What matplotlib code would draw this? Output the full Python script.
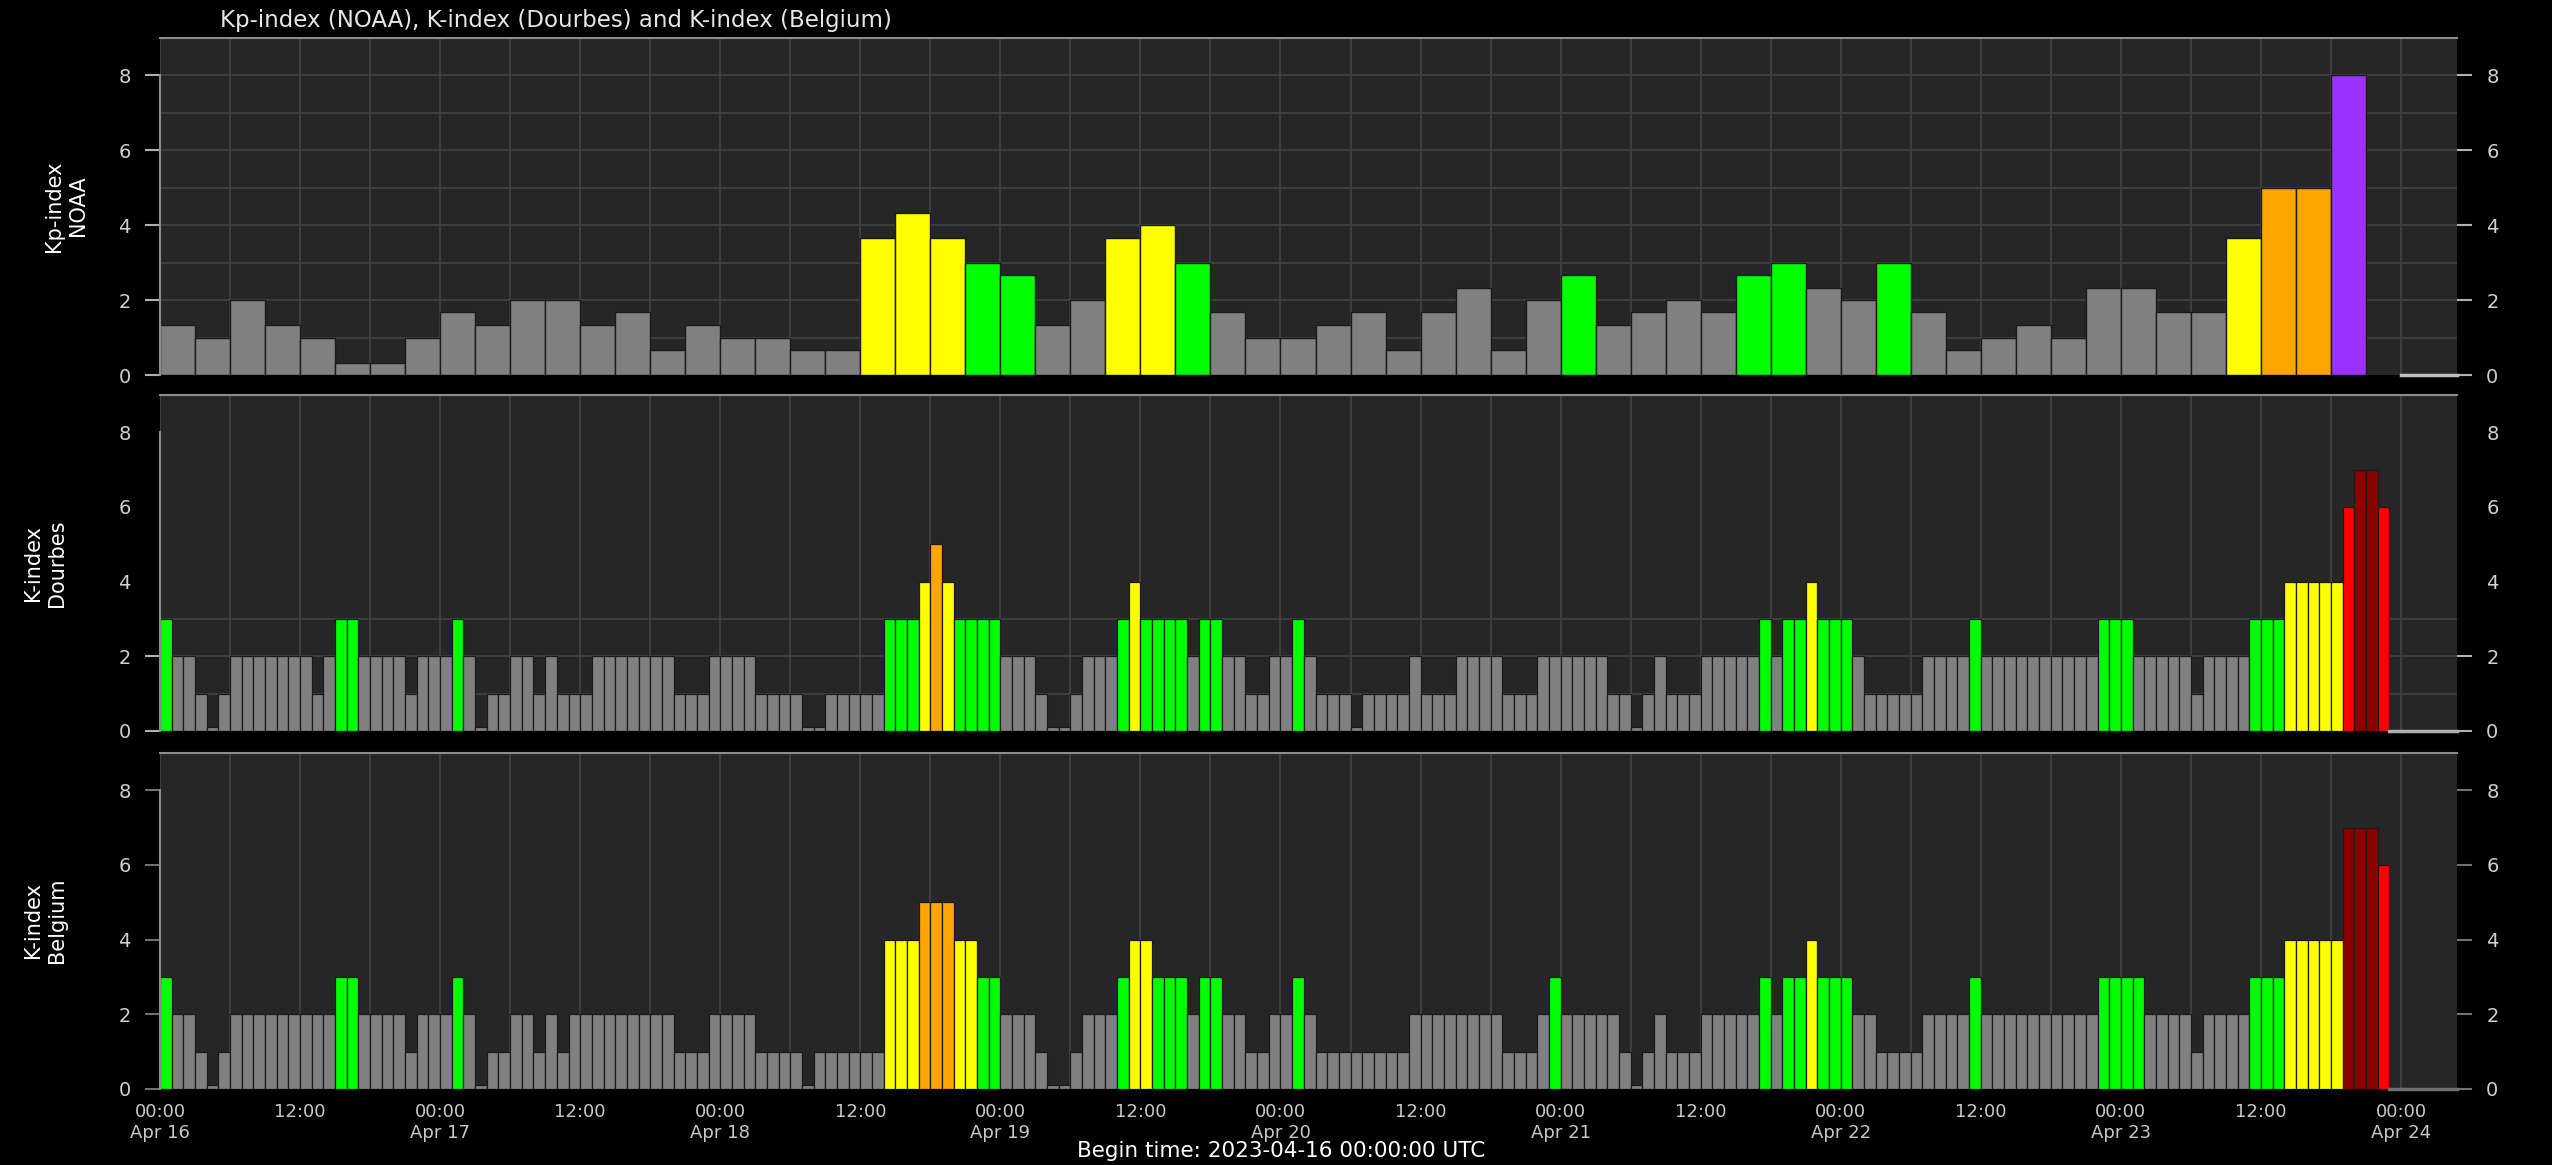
import datetime as dt
import matplotlib
matplotlib.use("Agg")
import matplotlib.pyplot as plt
import matplotlib.dates as mdates

START = dt.datetime(2023, 4, 16)
END = START + dt.timedelta(days=8.2)

# Kp-index (NOAA), 3-hourly, from 2023-04-16 00:00
kp_noaa = [
    1.33, 1, 2, 1.33, 1, 0.33, 0.33, 1,
    1.67, 1.33, 2, 2, 1.33, 1.67, 0.67, 1.33,
    1, 1, 0.67, 0.67, 3.67, 4.33, 3.67, 3,
    2.67, 1.33, 2, 3.67, 4, 3, 1.67, 1,
    1, 1.33, 1.67, 0.67, 1.67, 2.33, 0.67, 2,
    2.67, 1.33, 1.67, 2, 1.67, 2.67, 3, 2.33,
    2, 3, 1.67, 0.67, 1, 1.33, 1, 2.33,
    2.33, 1.67, 1.67, 3.67, 5, 5, 8,
]

# K-index Dourbes, hourly
k_dourbes = [
    3, 2, 2, 1, 0, 1, 2, 2, 2, 2, 2, 2, 2, 1, 2, 3, 3, 2, 2, 2, 2, 1, 2, 2,
    2, 3, 2, 0, 1, 1, 2, 2, 1, 2, 1, 1, 1, 2, 2, 2, 2, 2, 2, 2, 1, 1, 1, 2,
    2, 2, 2, 1, 1, 1, 1, 0, 0, 1, 1, 1, 1, 1, 3, 3, 3, 4, 5, 4, 3, 3, 3, 3,
    2, 2, 2, 1, 0, 0, 1, 2, 2, 2, 3, 4, 3, 3, 3, 3, 2, 3, 3, 2, 2, 1, 1, 2,
    2, 3, 2, 1, 1, 1, 0, 1, 1, 1, 1, 2, 1, 1, 1, 2, 2, 2, 2, 1, 1, 1, 2, 2,
    2, 2, 2, 2, 1, 1, 0, 1, 2, 1, 1, 1, 2, 2, 2, 2, 2, 3, 2, 3, 3, 4, 3, 3,
    3, 2, 1, 1, 1, 1, 1, 2, 2, 2, 2, 3, 2, 2, 2, 2, 2, 2, 2, 2, 2, 2, 3, 3,
    3, 2, 2, 2, 2, 2, 1, 2, 2, 2, 2, 3, 3, 3, 4, 4, 4, 4, 4, 6, 7, 7, 6,
]

# K-index Belgium, hourly
k_belgium = [
    3, 2, 2, 1, 0, 1, 2, 2, 2, 2, 2, 2, 2, 2, 2, 3, 3, 2, 2, 2, 2, 1, 2, 2,
    2, 3, 2, 0, 1, 1, 2, 2, 1, 2, 1, 2, 2, 2, 2, 2, 2, 2, 2, 2, 1, 1, 1, 2,
    2, 2, 2, 1, 1, 1, 1, 0, 1, 1, 1, 1, 1, 1, 4, 4, 4, 5, 5, 5, 4, 4, 3, 3,
    2, 2, 2, 1, 0, 0, 1, 2, 2, 2, 3, 4, 4, 3, 3, 3, 2, 3, 3, 2, 2, 1, 1, 2,
    2, 3, 2, 1, 1, 1, 1, 1, 1, 1, 1, 2, 2, 2, 2, 2, 2, 2, 2, 1, 1, 1, 2, 3,
    2, 2, 2, 2, 2, 1, 0, 1, 2, 1, 1, 1, 2, 2, 2, 2, 2, 3, 2, 3, 3, 4, 3, 3,
    3, 2, 2, 1, 1, 1, 1, 2, 2, 2, 2, 3, 2, 2, 2, 2, 2, 2, 2, 2, 2, 2, 3, 3,
    3, 3, 2, 2, 2, 2, 1, 2, 2, 2, 2, 3, 3, 3, 4, 4, 4, 4, 4, 7, 7, 7, 6,
]

BG = "#262626"
GRID = "#444444"


def k_color(k):
    k = int(round(k))
    if k <= 2:
        return "#808080"
    return {3: "#00ff00", 4: "#ffff00", 5: "#ffa500",
            6: "#ff0000", 7: "#8b0000"}.get(k, "#9b30ff")


def fmt_time(x, pos):
    d = mdates.num2date(x)
    if d.hour == 0:
        return d.strftime("%H:%M\n%b %d")
    return d.strftime("%H:%M")


def setup(ax, hlines, tick_color, hide_ticks=()):
    ax.set_facecolor(BG)
    ax.set_xlim(START, END)
    ax.set_ylim(0, 9)
    ax.xaxis.set_major_locator(mdates.HourLocator(byhour=[0, 12]))
    ax.xaxis.set_minor_locator(mdates.HourLocator(byhour=[6, 18]))
    ax.xaxis.set_major_formatter(plt.FuncFormatter(fmt_time))
    ax.set_axisbelow(True)
    ax.grid(True, which="both", axis="x", color=GRID, lw=1.2)
    for y in hlines:
        ax.axhline(y, color=GRID, lw=1.2, zorder=0.6)
    ax.set_yticks([0, 2, 4, 6, 8])
    ax.tick_params(axis="y", left=True, right=True, labelleft=True, labelright=True,
                   length=11, width=1.5, color=tick_color, labelcolor="#d0d0d0",
                   labelsize=14, pad=10)
    ax.tick_params(axis="x", which="both", length=0, labelbottom=False,
                   labelcolor="#c8c8c8", labelsize=13, pad=10)
    for i in hide_ticks:
        t = ax.yaxis.get_major_ticks()[i]
        t.tick1line.set_visible(False)
        t.tick2line.set_visible(False)
    for s in ("right", "bottom"):
        ax.spines[s].set_visible(False)
    ax.spines["top"].set_color("#8c8c8c")
    ax.spines["top"].set_linewidth(1.5)
    ax.spines["left"].set_color("#8c8c8c")
    ax.spines["left"].set_linewidth(1.5)
    ax.spines["left"].set_bounds(0, 8)


def draw_k(ax, values, line_color):
    times = [START + dt.timedelta(hours=i) for i in range(len(values))]
    heights = [max(v, 0.12) for v in values]
    ax.bar(times, heights, width=1 / 24, align="edge",
           color=[k_color(v) for v in values], edgecolor="#1a1a1a", lw=0.9, zorder=2)
    t_end = START + dt.timedelta(hours=len(values))
    ax.plot([t_end, END], [0, 0], color=line_color, lw=2.5, zorder=3, clip_on=False)


fig = plt.figure(figsize=(25.52, 11.65), dpi=100, facecolor="black")
left, width = 160 / 2552, 2297 / 2552
ax1 = fig.add_axes([left, 1 - 375 / 1165, width, 337 / 1165])
ax2 = fig.add_axes([left, 1 - 731 / 1165, width, 336 / 1165])
ax3 = fig.add_axes([left, 1 - 1089 / 1165, width, 336 / 1165])

# Kp panel
setup(ax1, range(1, 9), "#b0b0b0")
kp_times = [START + dt.timedelta(hours=3 * i) for i in range(len(kp_noaa))]
ax1.bar(kp_times, kp_noaa, width=3 / 24, align="edge",
        color=[k_color(v) for v in kp_noaa], edgecolor="#1a1a1a", lw=1.0, zorder=2)
ax1.plot([START + dt.timedelta(days=8), END], [0, 0], color="#c0c0c0", lw=2.5,
         zorder=3, clip_on=False)

# Dourbes panel
setup(ax2, [1, 2, 3], "#b0b0b0", hide_ticks=(2, 3, 4))
draw_k(ax2, k_dourbes, "#b0b0b0")

# Belgium panel
setup(ax3, [], "#707070")
draw_k(ax3, k_belgium, "#707070")
ax3.tick_params(axis="x", labelbottom=True)

fig.text(220 / 2552, 1 - 20 / 1165, "Kp-index (NOAA), K-index (Dourbes) and K-index (Belgium)",
         color="#e6e6e6", fontsize=16.5, ha="left", va="center")
fig.text(66 / 2552, 1 - 206 / 1165, "Kp-index\nNOAA", color="white", fontsize=15,
         rotation=90, ha="center", va="center", multialignment="center")
fig.text(45 / 2552, 1 - 563 / 1165, "K-index\nDourbes", color="white", fontsize=15,
         rotation=90, ha="center", va="center", multialignment="center")
fig.text(45 / 2552, 1 - 920 / 1165, "K-index\nBelgium", color="white", fontsize=15,
         rotation=90, ha="center", va="center", multialignment="center")
fig.text(0.502, 1 - 1151 / 1165, "Begin time: 2023-04-16 00:00:00 UTC",
         color="white", fontsize=15.5, ha="center", va="center")

fig.savefig("out.png", dpi=100, facecolor="black")
